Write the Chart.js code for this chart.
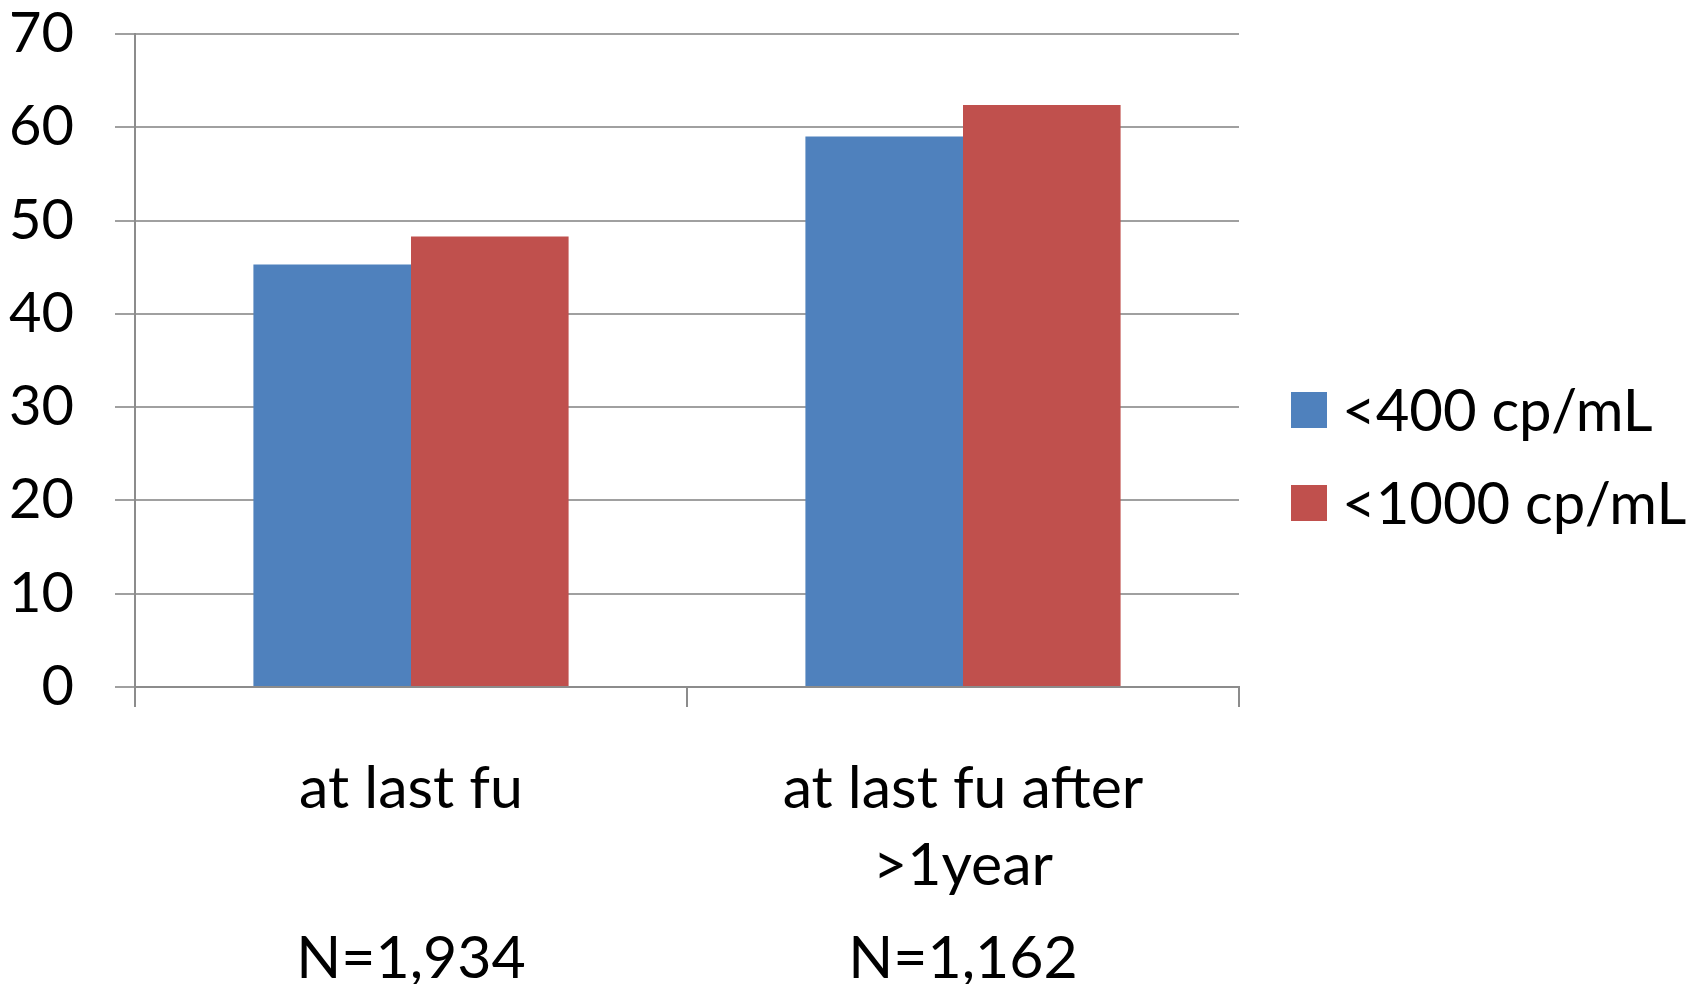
<!DOCTYPE html>
<html>
<head>
<meta charset="utf-8">
<title>Viral suppression at last follow-up</title>
<script src="https://cdn.jsdelivr.net/npm/chart.js@4/dist/chart.umd.min.js"></script>
<style>
  html, body { margin: 0; padding: 0; background: #ffffff; }
  canvas { display: block; }
</style>
</head>
<body>
<canvas id="chart" width="1702" height="984"></canvas>
<script>
// Category labels (multi-line) and the sample size shown beneath each group
const categories = [["at last fu"], ["at last fu after", ">1year"]];
const sampleSizes = ["N=1,934", "N=1,162"];

// Percentage of patients below each viral-load threshold
const below400 = [45.3, 59.0];
const below1000 = [48.3, 62.4];

const seriesNames = ["<400 cp/mL", "<1000 cp/mL"];
const yTicks = [0, 10, 20, 30, 40, 50, 60, 70];

const FONT = "Lato, 'Liberation Sans', sans-serif";
const colors = ["#4F81BD", "#C0504D"];

// Legend drawn at the right of the plot, squares with labels
const sideLegend = {
  id: "sideLegend",
  afterDraw(chart) {
    const ctx = chart.ctx;
    const boxX = 1291, boxSize = 36, textX = 1342;
    const rowTop = [392, 485];
    ctx.save();
    ctx.font = "58px " + FONT;
    ctx.textBaseline = "middle";
    ctx.textAlign = "left";
    chart.data.datasets.forEach((ds, i) => {
      ctx.fillStyle = ds.backgroundColor;
      ctx.fillRect(boxX, rowTop[i], boxSize, boxSize);
      ctx.fillStyle = "#000000";
      ctx.fillText(ds.label, textX, rowTop[i] + boxSize / 2 + 2);
    });
    ctx.restore();
  }
};

new Chart(document.getElementById("chart"), {
  type: "bar",
  data: {
    labels: categories,
    datasets: [
      { label: seriesNames[0], data: below400, backgroundColor: colors[0], xAxisID: "x" },
      { label: seriesNames[1], data: below1000, backgroundColor: colors[1], xAxisID: "x" }
    ]
  },
  options: {
    responsive: false,
    animation: false,
    devicePixelRatio: 1,
    categoryPercentage: 0.571,
    barPercentage: 1.0,
    layout: { padding: { top: 34, right: 463, left: 0, bottom: 0 } },
    plugins: {
      legend: { display: false },
      tooltip: { enabled: false }
    },
    scales: {
      y: {
        min: 0,
        max: 70,
        afterBuildTicks: (scale) => { scale.ticks = yTicks.map(v => ({ value: v })); },
        afterFit: (scale) => {
          scale.width = 135;
          scale.paddingTop = 0;
          scale.paddingBottom = 0;
        },
        ticks: {
          color: "#000000",
          font: { family: FONT, size: 56 },
          padding: 41
        },
        grid: { color: "#a0a0a0", lineWidth: 2, tickLength: 20 },
        border: { color: "#8c8c8c", width: 2 }
      },
      x: {
        weight: 0,
        offset: true,
        afterFit: (scale) => { scale.height = 215; },
        ticks: {
          color: "#000000",
          font: { family: FONT, size: 59, lineHeight: 1.3 },
          padding: 44,
          maxRotation: 0,
          autoSkip: false
        },
        grid: { color: "#8c8c8c", lineWidth: 2, tickLength: 20, drawOnChartArea: false, offset: true },
        border: { color: "#8c8c8c", width: 2 }
      },
      x2: {
        type: "category",
        labels: sampleSizes,
        position: "bottom",
        weight: 1,
        offset: true,
        afterFit: (scale) => { scale.height = 82; },
        ticks: {
          color: "#000000",
          font: { family: FONT, size: 59, lineHeight: 1.2 },
          padding: 14,
          maxRotation: 0,
          autoSkip: false
        },
        grid: { display: false },
        border: { display: false }
      }
    }
  },
  plugins: [sideLegend]
});
</script>
</body>
</html>
